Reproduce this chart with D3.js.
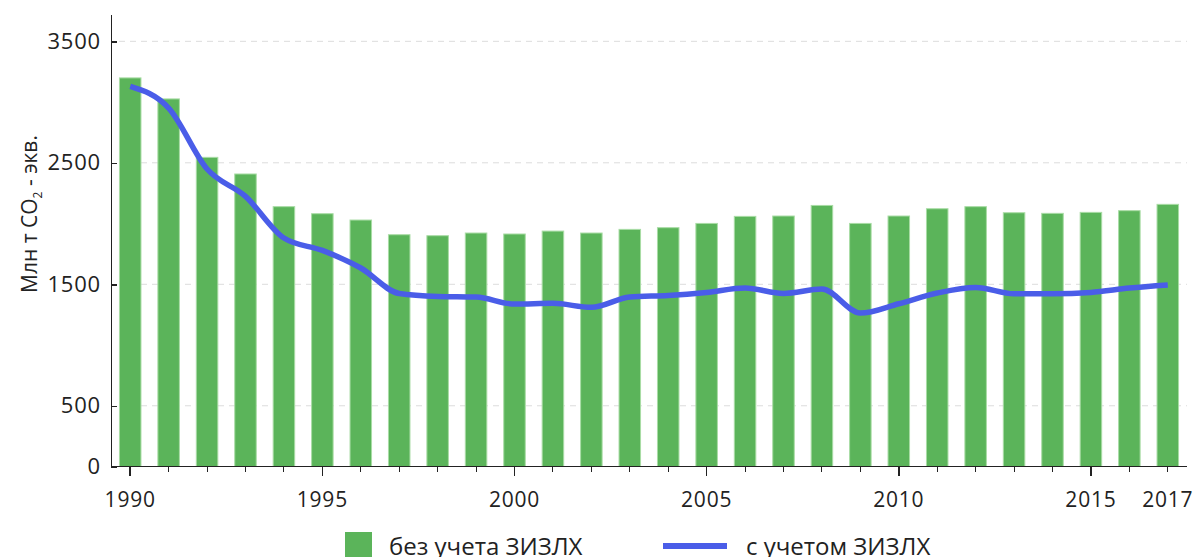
<!DOCTYPE html>
<html lang="ru">
<head>
<meta charset="utf-8">
<script src="https://d3js.org/d3.v7.min.js"></script>
<title>Выбросы парниковых газов</title>
<style>
  body { margin: 0; background: #fff; }
  svg text { font-family: "Open Sans", sans-serif; fill: #222; }
  .axis path, .axis line { stroke: #222; shape-rendering: crispEdges; }
  .grid line { stroke: #dcdcdc; stroke-dasharray: 6,5; }
</style>
</head>
<body>
<svg id="chart" width="1195" height="557"></svg>
<script>
// years on the x axis
var years = [1990, 1991, 1992, 1993, 1994, 1995, 1996, 1997, 1998, 1999,
             2000, 2001, 2002, 2003, 2004, 2005, 2006, 2007, 2008, 2009,
             2010, 2011, 2012, 2013, 2014, 2015, 2016, 2017];

// без учета ЗИЗЛХ (bars)
var withoutLULUCF = [3199, 3026, 2545, 2408, 2139, 2081, 2029, 1908, 1900, 1922,
                     1914, 1938, 1922, 1952, 1966, 2001, 2059, 2062, 2149, 2001,
                     2062, 2122, 2139, 2089, 2084, 2092, 2106, 2158];

// с учетом ЗИЗЛХ (line)
var withLULUCF = [3129, 2951, 2449, 2224, 1881, 1779, 1634, 1424, 1400, 1395,
                  1337, 1343, 1310, 1395, 1408, 1433, 1469, 1425, 1461, 1263,
                  1340, 1428, 1474, 1422, 1422, 1433, 1469, 1494];

var yTicks = [0, 500, 1500, 2500, 3500];
var labeledYears = [1990, 1995, 2000, 2005, 2010, 2015, 2017];
var majorYears = [1990, 1995, 2000, 2005, 2010, 2015];

var svg = d3.select("#chart");

var plotLeft = 111, plotRight = 1187, plotTop = 14, plotBottom = 466.5;

var x = d3.scaleBand()
    .domain(years)
    .range([plotLeft, plotRight])
    .paddingInner(0.44)
    .paddingOuter(0.22);

var y = d3.scaleLinear()
    .domain([0, 3725])
    .range([plotBottom, plotTop]);

// grid
svg.append("g")
    .attr("class", "grid")
  .selectAll("line")
  .data(yTicks.filter(function(d) { return d > 0; }))
  .enter().append("line")
    .attr("x1", plotLeft + 8)
    .attr("x2", plotRight)
    .attr("y1", function(d) { return y(d); })
    .attr("y2", function(d) { return y(d); });

// bars
svg.append("g")
  .selectAll("rect")
  .data(years)
  .enter().append("rect")
    .attr("x", function(d) { return x(d); })
    .attr("y", function(d, i) { return y(withoutLULUCF[i]); })
    .attr("width", x.bandwidth())
    .attr("height", function(d, i) { return y(0) - y(withoutLULUCF[i]); })
    .attr("fill", "#5bb45a")
    .attr("stroke", "#a9dca5")
    .attr("stroke-width", 1);

// line
var line = d3.line()
    .x(function(d, i) { return x(years[i]) + x.bandwidth() / 2; })
    .y(function(d) { return y(d); })
    .curve(d3.curveMonotoneX);

svg.append("path")
    .datum(withLULUCF)
    .attr("fill", "none")
    .attr("stroke", "#4a5de8")
    .attr("stroke-width", 5.5)
    .attr("d", line);

// x axis
var xAxis = svg.append("g")
    .attr("class", "axis")
    .attr("transform", "translate(0," + plotBottom + ")")
    .call(d3.axisBottom(x)
        .tickSizeOuter(0)
        .tickSize(5)
        .tickFormat(function(d) { return labeledYears.indexOf(d) >= 0 ? d : ""; }));

xAxis.select(".domain").attr("d", "M" + plotLeft + ",0H" + plotRight).attr("stroke-width", 1.5);
xAxis.selectAll(".tick line")
    .attr("stroke", function(d) { return majorYears.indexOf(d) >= 0 ? "#222" : "#7e98b4"; })
    .attr("stroke-width", function(d) { return majorYears.indexOf(d) >= 0 ? 1.5 : 1; })
    .attr("y2", function(d) { return majorYears.indexOf(d) >= 0 ? 9 : 5; });
xAxis.selectAll(".tick text")
    .attr("y", 40)
    .attr("dy", 0)
    .style("font-size", "21px")
    .style("letter-spacing", "0.8px");

// y axis
var yAxis = svg.append("g")
    .attr("class", "axis")
    .attr("transform", "translate(" + plotLeft + ",0)")
    .call(d3.axisLeft(y)
        .tickValues(yTicks)
        .tickFormat(d3.format("d"))
        .tickSize(-6)
        .tickSizeOuter(0)
        .tickPadding(10));

yAxis.select(".domain").attr("stroke-width", 1.5);
yAxis.selectAll(".tick line").attr("stroke-width", 1.5);
yAxis.selectAll(".tick text")
    .style("font-size", "22px")
    .style("letter-spacing", "0.8px");

// y title
var title = svg.append("text")
    .attr("transform", "translate(37,214) rotate(-90)")
    .attr("text-anchor", "middle")
    .style("font-size", "21px");
title.append("tspan").text("Млн т CO");
title.append("tspan").attr("dy", 5).style("font-size", "12px").text("2");
title.append("tspan").attr("dy", -5).text(" - экв.");

// legend
var legend = svg.append("g");
legend.append("rect")
    .attr("x", 345).attr("y", 532)
    .attr("width", 27).attr("height", 27)
    .attr("fill", "#5bb45a");
legend.append("text")
    .attr("x", 389).attr("y", 555)
    .style("font-size", "24px")
    .text("без учета ЗИЗЛХ");
legend.append("line")
    .attr("x1", 663).attr("x2", 727)
    .attr("y1", 546).attr("y2", 546)
    .attr("stroke", "#4a5de8")
    .attr("stroke-width", 6);
legend.append("text")
    .attr("x", 746).attr("y", 555)
    .style("font-size", "24px")
    .text("с учетом ЗИЗЛХ");
</script>
</body>
</html>
